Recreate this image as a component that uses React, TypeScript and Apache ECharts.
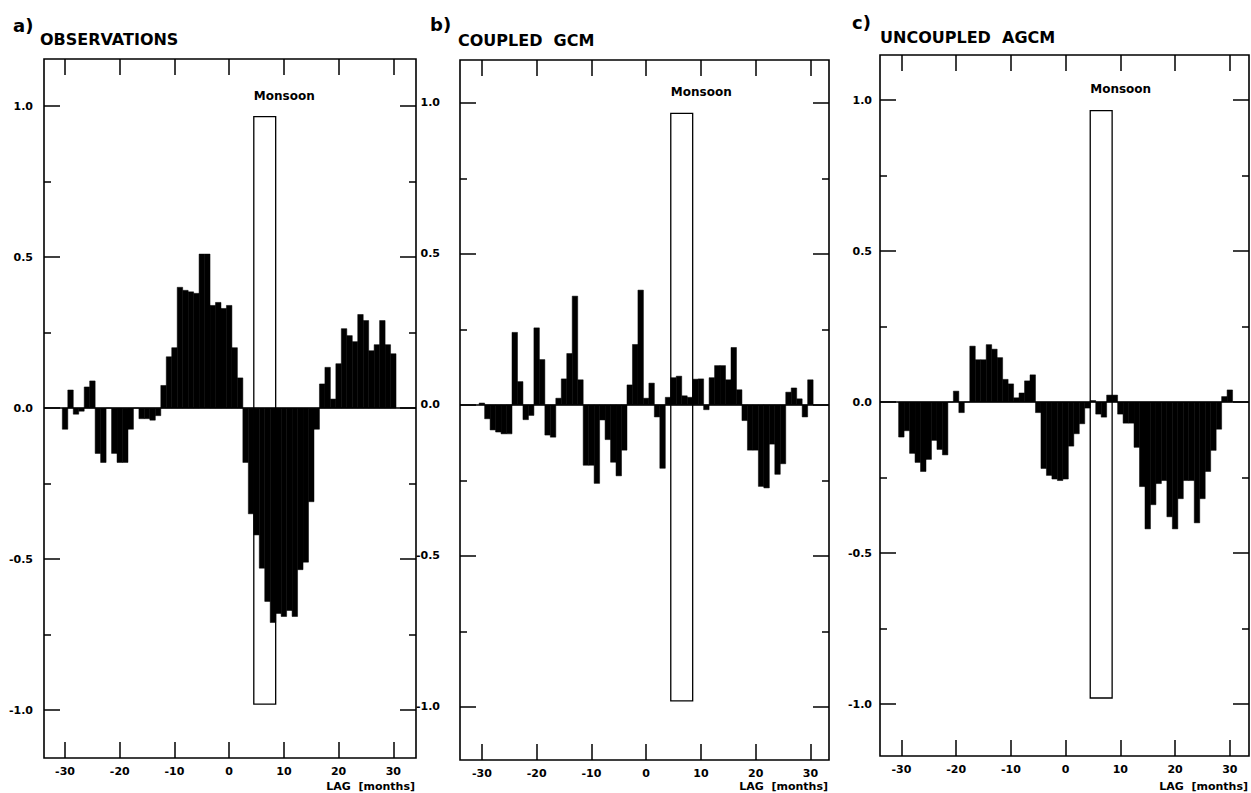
import { useEffect, useRef } from 'react';
import * as echarts from 'echarts';

// ---- data (lag in months, correlation) ----
const LAGS = [
  -30, -29, -28, -27, -26, -25, -24, -23, -22, -21, -20, -19, -18, -17, -16, -15,
  -14, -13, -12, -11, -10, -9, -8, -7, -6, -5, -4, -3, -2, -1, 0, 1, 2, 3, 4, 5,
  6, 7, 8, 9, 10, 11, 12, 13, 14, 15, 16, 17, 18, 19, 20, 21, 22, 23, 24, 25, 26,
  27, 28, 29, 30,
];

const OBSERVATIONS = [
  -0.07, 0.06, -0.02, -0.01, 0.07, 0.09, -0.15, -0.18, 0.0, -0.15, -0.18, -0.18,
  -0.07, 0.0, -0.035, -0.035, -0.04, -0.025, 0.075, 0.17, 0.2, 0.4, 0.39, 0.385,
  0.38, 0.51, 0.51, 0.34, 0.35, 0.33, 0.34, 0.2, 0.1, -0.18, -0.35, -0.42, -0.53,
  -0.64, -0.71, -0.68, -0.69, -0.67, -0.69, -0.535, -0.51, -0.31, -0.07, 0.08,
  0.135, 0.03, 0.147, 0.263, 0.24, 0.22, 0.31, 0.29, 0.19, 0.21, 0.29, 0.21, 0.18,
];

const COUPLED_GCM = [
  0.006, -0.046, -0.083, -0.09, -0.096, -0.096, 0.24, 0.077, -0.049, -0.035, 0.255,
  0.15, -0.1, -0.107, 0.022, 0.086, 0.17, 0.36, 0.083, -0.2, -0.2, -0.26, -0.05,
  -0.115, -0.19, -0.235, -0.15, 0.066, 0.2, 0.38, 0.022, 0.072, -0.04, -0.21, 0.025,
  0.09, 0.095, 0.03, 0.025, 0.085, 0.086, -0.016, 0.09, 0.13, 0.13, 0.083, 0.19,
  0.05, -0.052, -0.15, -0.15, -0.27, -0.275, -0.13, -0.23, -0.195, 0.042, 0.056,
  0.02, -0.04, 0.083,
];

const UNCOUPLED_AGCM = [
  -0.116, -0.095, -0.17, -0.2, -0.23, -0.19, -0.127, -0.157, -0.175, 0.0, 0.036,
  -0.035, 0.0, 0.185, 0.14, 0.14, 0.19, 0.175, 0.147, 0.075, 0.06, 0.014, 0.03,
  0.07, 0.09, -0.035, -0.22, -0.243, -0.255, -0.26, -0.255, -0.146, -0.105, -0.072,
  -0.02, 0.005, -0.04, -0.05, 0.023, 0.023, -0.04, -0.07, -0.07, -0.15, -0.28,
  -0.42, -0.34, -0.27, -0.26, -0.38, -0.42, -0.32, -0.26, -0.26, -0.4, -0.32,
  -0.23, -0.16, -0.09, 0.018, 0.04,
];

const X_TICKS = [-30, -20, -10, 0, 10, 20, 30];
const Y_MAJOR = [-1, -0.5, 0, 0.5, 1];
const Y_MINOR = [-0.75, -0.25, 0.25, 0.75];
const MONSOON_LAGS = [4.5, 8.5];
const MONSOON_RANGE = [-0.98, 0.965];
const MONSOON_LABEL_Y = 1.035;

const TAGS = ['a)', 'b)', 'c)'];
const TITLES = ['OBSERVATIONS', 'COUPLED  GCM', 'UNCOUPLED  AGCM'];
const SERIES_VALUES = [OBSERVATIONS, COUPLED_GCM, UNCOUPLED_AGCM];

// ---- layout (pixels) ----
const LAYOUT = [
  { left: 44, top: 59, width: 372, height: 699, xMin: -33.85, xMax: 34.15, yMin: -1.1586, yMax: 1.156, yLabelMargin: 11, tagX: 13, tagY: 25, titleX: 40, titleY: 39 },
  { left: 460, top: 60, width: 369, height: 700, xMin: -34.0, xMax: 33.4, yMin: -1.176, yMax: 1.142, yLabelMargin: 20, tagX: 430, tagY: 24, titleX: 458, titleY: 40 },
  { left: 880, top: 55, width: 369, height: 701, xMin: -33.9, xMax: 33.5, yMin: -1.172, yMax: 1.149, yLabelMargin: 8, tagX: 852, tagY: 22, titleX: 880, titleY: 37 },
];

const FONT = '"DejaVu Sans", "Liberation Sans", Arial, sans-serif';
const BLACK = '#000';

function buildOption() {
  const grid: any[] = [];
  const xAxis: any[] = [];
  const yAxis: any[] = [];
  const series: any[] = [];
  const graphic: any[] = [];

  LAYOUT.forEach((L, i) => {
    grid.push({
      left: L.left,
      top: L.top,
      width: L.width,
      height: L.height,
      show: true,
      borderColor: BLACK,
      borderWidth: 1.6,
      backgroundColor: 'transparent',
      containLabel: false,
      outerBoundsMode: 'none',
    });

    const tickStyle = { color: BLACK, width: 1.5 };
    const hiddenLine = { show: false, onZero: false };
    // bottom x axis (with labels)
    xAxis.push({
      type: 'value',
      gridIndex: i,
      position: 'bottom',
      min: L.xMin,
      max: L.xMax,
      axisLine: hiddenLine,
      splitLine: { show: false },
      axisTick: { show: true, inside: true, length: 16, lineStyle: tickStyle, customValues: X_TICKS },
      axisLabel: {
        show: true,
        customValues: X_TICKS,
        margin: 8,
        color: BLACK,
        fontFamily: FONT,
        fontWeight: 'bold',
        fontSize: 11,
        formatter: (v: number) => String(v),
      },
    });
    // top x axis (ticks only)
    xAxis.push({
      type: 'value',
      gridIndex: i,
      position: 'top',
      min: L.xMin,
      max: L.xMax,
      axisLine: hiddenLine,
      splitLine: { show: false },
      axisTick: { show: true, inside: true, length: 16, lineStyle: tickStyle, customValues: X_TICKS },
      axisLabel: { show: false },
    });

    const yBase = {
      type: 'value',
      gridIndex: i,
      min: L.yMin,
      max: L.yMax,
      axisLine: hiddenLine,
      splitLine: { show: false },
    };
    yAxis.push({
      ...yBase,
      position: 'left',
      axisTick: { show: true, inside: true, length: 16, lineStyle: tickStyle, customValues: Y_MAJOR },
      axisLabel: {
        show: true,
        customValues: Y_MAJOR,
        margin: L.yLabelMargin,
        color: BLACK,
        fontFamily: FONT,
        fontWeight: 'bold',
        fontSize: 11,
        formatter: (v: number) => v.toFixed(1),
      },
    });
    yAxis.push({
      ...yBase,
      position: 'left',
      axisTick: { show: true, inside: true, length: 7, lineStyle: tickStyle, customValues: Y_MINOR },
      axisLabel: { show: false },
    });
    yAxis.push({
      ...yBase,
      position: 'right',
      axisTick: { show: true, inside: true, length: 16, lineStyle: tickStyle, customValues: Y_MAJOR },
      axisLabel: { show: false },
    });
    yAxis.push({
      ...yBase,
      position: 'right',
      axisTick: { show: true, inside: true, length: 7, lineStyle: tickStyle, customValues: Y_MINOR },
      axisLabel: { show: false },
    });

    const values = SERIES_VALUES[i];
    series.push({
      type: 'custom',
      name: TITLES[i],
      xAxisIndex: 2 * i,
      yAxisIndex: 4 * i,
      data: LAGS.map((lag, j) => [lag, values[j]]),
      encode: { x: 0, y: 1 },
      silent: true,
      renderItem: (params: any, api: any) => {
        const lag = api.value(0);
        const v = api.value(1);
        const p0 = api.coord([lag - 0.5, 0]);
        const p1 = api.coord([lag + 0.5, v]);
        return {
          type: 'rect',
          shape: {
            x: p0[0],
            y: Math.min(p0[1], p1[1]),
            width: p1[0] - p0[0],
            height: Math.abs(p1[1] - p0[1]),
          },
          style: { fill: BLACK, stroke: BLACK, lineWidth: 0.5 },
        };
      },
      markLine: {
        silent: true,
        symbol: ['none', 'none'],
        label: { show: false },
        lineStyle: { color: BLACK, width: 1.6, type: 'solid' },
        data: [{ yAxis: 0 }],
      },
      markArea: {
        silent: true,
        itemStyle: { color: 'rgba(0,0,0,0)', borderColor: BLACK, borderWidth: 1.3 },
        label: { show: false },
        data: [[
          { xAxis: MONSOON_LAGS[0], yAxis: MONSOON_RANGE[1] },
          { xAxis: MONSOON_LAGS[1], yAxis: MONSOON_RANGE[0] },
        ]],
      },
      markPoint: {
        silent: true,
        symbol: 'circle',
        symbolSize: 0,
        itemStyle: { color: 'rgba(0,0,0,0)' },
        label: {
          show: true,
          position: 'right',
          distance: 0,
          formatter: 'Monsoon',
          color: BLACK,
          fontFamily: FONT,
          fontWeight: 'bold',
          fontSize: 12,
        },
        data: [{ coord: [MONSOON_LAGS[0], MONSOON_LABEL_Y], value: 0 }],
      },
    });

    graphic.push({
      type: 'text',
      x: L.tagX,
      y: L.tagY,
      silent: true,
      style: { text: TAGS[i], fill: BLACK, font: `bold 18px ${FONT}`, align: 'left', verticalAlign: 'middle' },
    });
    graphic.push({
      type: 'text',
      x: L.titleX,
      y: L.titleY,
      silent: true,
      style: { text: TITLES[i], fill: BLACK, font: `bold 16px ${FONT}`, align: 'left', verticalAlign: 'middle' },
    });
    graphic.push({
      type: 'text',
      x: L.left + L.width - 1,
      y: 786,
      silent: true,
      style: { text: 'LAG  [months]', fill: BLACK, font: `bold 11px ${FONT}`, align: 'right', verticalAlign: 'middle' },
    });
  });

  return {
    animation: false,
    backgroundColor: '#ffffff',
    textStyle: { fontFamily: FONT },
    grid,
    xAxis,
    yAxis,
    series,
    graphic,
  };
}

export default function App() {
  const ref = useRef<HTMLDivElement>(null);

  useEffect(() => {
    document.body.style.margin = '0';
    if (!ref.current) return;
    const chart = echarts.init(ref.current, undefined, { renderer: 'svg' });
    chart.setOption(buildOption() as any);
    return () => {
      chart.dispose();
    };
  }, []);

  return <div ref={ref} style={{ width: 1251, height: 793, background: '#fff' }} />;
}
